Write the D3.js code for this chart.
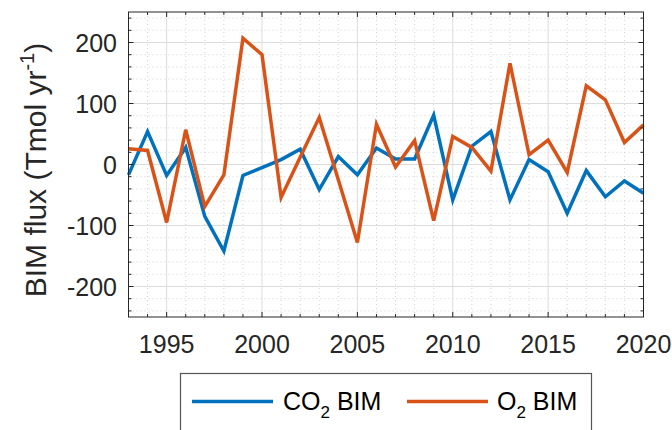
<!DOCTYPE html>
<html>
<head>
<meta charset="utf-8">
<script src="https://cdn.jsdelivr.net/npm/d3@7"></script>
<style>
  html, body { margin: 0; padding: 0; background: #fff; }
  svg { display: block; font-family: "Liberation Sans", Arial, Helvetica, sans-serif; }
</style>
</head>
<body>
<svg id="chart" width="672" height="430"></svg>
<script>
// Annual BIM flux estimates, Tmol per year
const years = d3.range(1993, 2021);
const co2Bim = [-17, 54, -18, 28, -85, -142, -18, -5, 8, 25, -41, 13, -17, 27, 9, 9,
                 81, -58, 30, 54, -58, 8, -12, -80, -10, -53, -27, -47];
const o2Bim  = [26, 23, -95, 57, -69, -17, 207, 180, -54, 12, 77, -25, -128, 66, -4, 39,
                -92, 46, 28, -11, 166, 16, 40, -13, 129, 106, 36, 65];
const xTicks = [1995, 2000, 2005, 2010, 2015, 2020];
const yTicks = [-200, -100, 0, 100, 200];
const seriesNames = ["CO2 BIM", "O2 BIM"];

const colors = { co2: "#0072BD", o2: "#D95319" };
const axisColor = "#262626";

const svg = d3.select("#chart");
const m = { left: 128.5, right: 643.5, top: 12, bottom: 317 };

const x = d3.scaleLinear().domain([1993, 2020]).range([m.left, m.right]);
const y = d3.scaleLinear().domain([-250, 250]).range([m.bottom, m.top]);

const g = svg.append("g");

// minor grid (dotted)
g.selectAll(".minor-x").data(d3.range(1994, 2020).filter(v => v % 5 !== 0))
  .join("line")
  .attr("x1", d => x(d)).attr("x2", d => x(d))
  .attr("y1", m.top).attr("y2", m.bottom)
  .attr("stroke", "#c8c8c8").attr("stroke-width", 0.8)
  .attr("stroke-dasharray", "1,3");
g.selectAll(".minor-y").data(d3.range(-240, 250, 20).filter(v => v % 100 !== 0))
  .join("line")
  .attr("x1", m.left).attr("x2", m.right)
  .attr("y1", d => y(d)).attr("y2", d => y(d))
  .attr("stroke", "#c8c8c8").attr("stroke-width", 0.8)
  .attr("stroke-dasharray", "1,3");

// major grid
g.selectAll(".major-x").data(xTicks.filter(v => v < 2020))
  .join("line")
  .attr("x1", d => x(d)).attr("x2", d => x(d))
  .attr("y1", m.top).attr("y2", m.bottom)
  .attr("stroke", "#dcdcdc").attr("stroke-width", 1);
g.selectAll(".major-y").data(yTicks)
  .join("line")
  .attr("x1", m.left).attr("x2", m.right)
  .attr("y1", d => y(d)).attr("y2", d => y(d))
  .attr("stroke", "#dcdcdc").attr("stroke-width", 1);

// data lines
const line = d3.line().x((d, i) => x(years[i])).y(d => y(d));
[[co2Bim, colors.co2], [o2Bim, colors.o2]].forEach(([vals, c]) => {
  g.append("path").datum(vals)
    .attr("d", line)
    .attr("fill", "none")
    .attr("stroke", c)
    .attr("stroke-width", 3.5)
    .attr("stroke-linejoin", "miter")
    .attr("stroke-miterlimit", 4);
});

// box and inward ticks on all sides
g.append("rect")
  .attr("x", m.left).attr("y", m.top)
  .attr("width", m.right - m.left).attr("height", m.bottom - m.top)
  .attr("fill", "none").attr("stroke", axisColor).attr("stroke-width", 1);

const xMinor = d3.range(1993, 2021);
const yMinor = d3.range(-240, 250, 20);
xMinor.forEach(v => {
  const len = xTicks.includes(v) ? 5 : 3;
  g.append("line").attr("x1", x(v)).attr("x2", x(v)).attr("y1", m.bottom).attr("y2", m.bottom - len)
    .attr("stroke", axisColor).attr("stroke-width", 1);
  g.append("line").attr("x1", x(v)).attr("x2", x(v)).attr("y1", m.top).attr("y2", m.top + len)
    .attr("stroke", axisColor).attr("stroke-width", 1);
});
yMinor.forEach(v => {
  const len = yTicks.includes(v) ? 5 : 3;
  g.append("line").attr("y1", y(v)).attr("y2", y(v)).attr("x1", m.left).attr("x2", m.left + len)
    .attr("stroke", axisColor).attr("stroke-width", 1);
  g.append("line").attr("y1", y(v)).attr("y2", y(v)).attr("x1", m.right).attr("x2", m.right - len)
    .attr("stroke", axisColor).attr("stroke-width", 1);
});

// tick labels
g.selectAll(".xl").data(xTicks).join("text")
  .attr("x", d => x(d)).attr("y", 353)
  .attr("text-anchor", "middle")
  .attr("font-size", 25).attr("fill", axisColor)
  .text(d => d);
g.selectAll(".yl").data(yTicks).join("text")
  .attr("x", 117).attr("y", d => y(d) + 9)
  .attr("text-anchor", "end")
  .attr("font-size", 25).attr("fill", axisColor)
  .text(d => d);

// y-axis title
const yt = svg.append("text")
  .attr("transform", `translate(46,170) rotate(-90)`)
  .attr("text-anchor", "middle")
  .attr("font-size", 30).attr("fill", axisColor);
yt.append("tspan").text("BIM flux (Tmol yr");
yt.append("tspan").attr("font-size", 20).attr("dy", -12).text("-1");
yt.append("tspan").attr("dy", 12).text(")");

// legend
const lg = svg.append("g");
lg.append("rect").attr("x", 180.5).attr("y", 373.5).attr("width", 411).attr("height", 80)
  .attr("fill", "#fff").attr("stroke", "#555").attr("stroke-width", 1.2);
const items = [
  { label: seriesNames[0], color: colors.co2, x0: 192, x1: 273, tx: 283 },
  { label: seriesNames[1], color: colors.o2, x0: 407, x1: 488, tx: 497 }
];
items.forEach(it => {
  lg.append("line").attr("x1", it.x0).attr("x2", it.x1).attr("y1", 401.5).attr("y2", 401.5)
    .attr("stroke", it.color).attr("stroke-width", 3.5);
  const t = lg.append("text").attr("x", it.tx).attr("y", 410)
    .attr("font-size", 25).attr("fill", "#000");
  const [chem, rest] = it.label.split(" ");
  t.append("tspan").text(chem.slice(0, -1));
  t.append("tspan").attr("font-size", 17).attr("dy", 8).text(chem.slice(-1));
  t.append("tspan").attr("dy", -8).text(" " + rest);
});
</script>
</body>
</html>
